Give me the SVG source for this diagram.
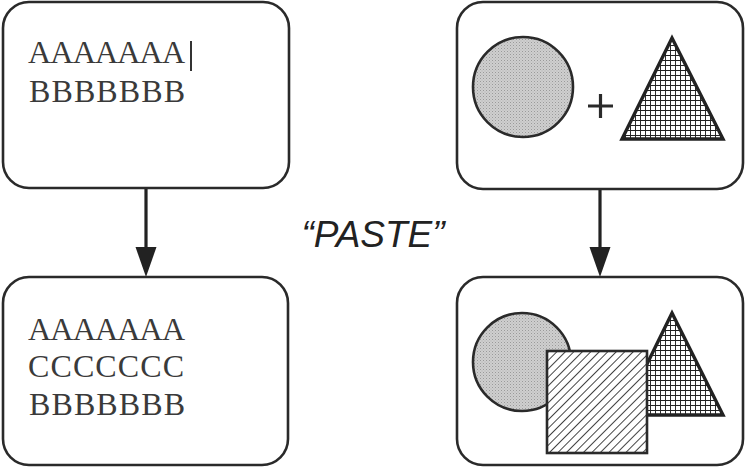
<svg xmlns="http://www.w3.org/2000/svg" width="746" height="468" viewBox="0 0 746 468">
<style>
.box{fill:#fff;stroke:#2a2a2a;stroke-width:2.6}
.mono{font-family:'Liberation Serif','Times New Roman',serif;font-size:32px;fill:#3a3a3a}
.shape{stroke:#2a2a2a;stroke-width:2.6}
.tri{stroke:#222;stroke-width:3.4;stroke-linejoin:miter}
.conn{stroke:#222;stroke-width:3.2;fill:none}
</style>
<defs>
<pattern id="stipple" width="3" height="3" patternUnits="userSpaceOnUse">
<rect width="3" height="3" fill="#cfcfcf"/>
<rect width="1" height="1" fill="#9a9a9a"/>
<rect x="1.5" y="1.5" width="1" height="1" fill="#b0b0b0"/>
</pattern>
<pattern id="grid" width="5" height="5" patternUnits="userSpaceOnUse">
<rect width="5" height="5" fill="#fff"/>
<path d="M0 0H5M0 0V5" stroke="#222" stroke-width="1.9"/>
</pattern>
<pattern id="hatch" width="6" height="6" patternUnits="userSpaceOnUse" patternTransform="rotate(45)">
<rect width="6" height="6" fill="#fff"/>
<path d="M0 0V6" stroke="#222" stroke-width="1.7"/>
</pattern>
</defs>

<g id="connectors">
<line class="conn" x1="146" y1="189" x2="146" y2="248"/>
<path d="M135.5 247 L156.5 247 L146 277 Z" fill="#222"/>
<line class="conn" x1="600" y1="190" x2="600" y2="248"/>
<path d="M589.5 247 L610.5 247 L600 277 Z" fill="#222"/>
</g>

<g id="node-text-before">
<rect class="box" x="3" y="2" width="286" height="186" rx="26"/>
<text class="mono" x="28" y="63" textLength="157" lengthAdjust="spacing">AAAAAAA</text>
<line x1="191" y1="41" x2="191" y2="71" stroke="#333" stroke-width="2"/>
<text class="mono" x="29" y="102" textLength="156" lengthAdjust="spacing">BBBBBBB</text>
</g>

<g id="node-text-after">
<rect class="box" x="3" y="277" width="285" height="188" rx="26"/>
<text class="mono" x="28" y="340" textLength="157" lengthAdjust="spacing">AAAAAAA</text>
<text class="mono" x="28" y="377" textLength="156" lengthAdjust="spacing">CCCCCCC</text>
<text class="mono" x="29" y="415" textLength="156" lengthAdjust="spacing">BBBBBBB</text>
</g>

<g id="label-paste">
<text x="373" y="247" text-anchor="middle" font-family="Liberation Sans, Arial, sans-serif" font-style="italic" font-size="37" fill="#222">“PASTE”</text>
</g>

<g id="node-shapes-before">
<rect class="box" x="457" y="2" width="286" height="187" rx="26"/>
<circle class="shape" cx="523" cy="87" r="50" fill="url(#stipple)"/>
<path d="M588 106H613M600.5 94V118" stroke="#2a2a2a" stroke-width="3.2"/>
<polygon class="tri" points="672,38 723,139 622,139" fill="url(#grid)"/>
</g>

<g id="node-shapes-after">
<rect class="box" x="457" y="277" width="286" height="188" rx="26"/>
<circle class="shape" cx="522" cy="362" r="49" fill="url(#stipple)"/>
<polygon class="tri" points="672,313 723,415 622,415" fill="url(#grid)"/>
<rect class="shape" x="547" y="351" width="100" height="102" fill="url(#hatch)"/>
</g>
</svg>
